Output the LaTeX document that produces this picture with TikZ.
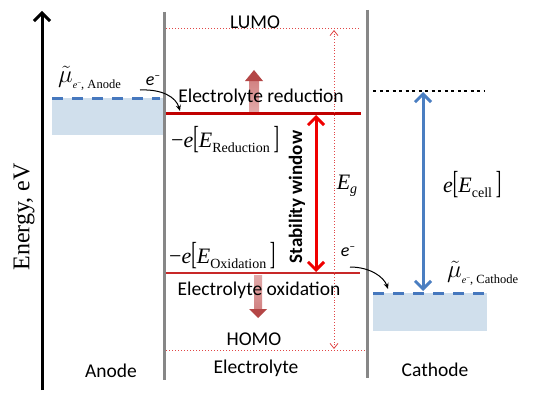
\documentclass[tikz,border=0pt]{standalone}
\usepackage{fontspec}
\setmainfont{Carlito}
\newfontfamily\tm{Liberation Serif}
\usetikzlibrary{arrows.meta}
\definecolor{gline}{RGB}{135,135,135}
\definecolor{dred}{RGB}{192,0,0}
\definecolor{oxred}{RGB}{200,40,40}
\definecolor{dotred}{RGB}{225,70,70}
\definecolor{swred}{RGB}{240,0,0}
\definecolor{cblue}{RGB}{74,126,193}
\definecolor{dblue}{RGB}{70,120,190}
\definecolor{boxfill}{RGB}{208,223,236}
\definecolor{pinkhead}{RGB}{180,70,70}
\definecolor{pinkshaft}{RGB}{215,140,140}
\newcommand{\mysub}[1]{\raisebox{-4.5pt}{\fontsize{14}{14}\selectfont #1}}
\newcommand{\brk}[1]{\raisebox{-1pt}{\scalebox{0.75}[1.45]{\fontsize{22}{22}\selectfont #1}}}
\newcommand{\musub}[1]{\raisebox{-6pt}{\tm\fontsize{10}{10}\selectfont\textit{e}\raisebox{3pt}{\fontsize{7}{7}\selectfont −}\fontsize{12.5}{12.5}\selectfont, #1}}
\newcommand{\elec}{\textit{e}\raisebox{6pt}{\fontsize{11}{11}\selectfont −}}
\begin{document}
\begin{tikzpicture}[x=1pt,y=-1pt,
 lbl/.style={font=\fontsize{19.5}{19.5}\selectfont, inner sep=0pt},
 mth/.style={font=\tm\fontsize{22}{22}\selectfont, inner sep=0pt},
 wall/.style={gline, line width=3pt},
 level/.style={dred, line width=3pt},
 orbital/.style={dotred, dotted, line width=1pt},
 fermi/.style={dblue, line width=3pt, dash pattern=on 11pt off 9pt},
 ebox/.style={fill=boxfill},
 barb/.style={line width=3pt, {Straight Barb[length=8pt,width=16pt]}-{Straight Barb[length=8pt,width=16pt]}},
 curv/.style={-{Stealth[length=6pt,width=5pt]}, line width=1pt},
]
\useasboundingbox (0,0) rectangle (554,404);
\fill[white] (0,0) rectangle (554,404);

% energy axis
\coordinate (axb) at (42,390);
\coordinate (axt) at (42,11);
\draw[line width=3pt, -{Straight Barb[length=8pt,width=16pt]}] (axb) -- (axt);
\node[font=\tm\fontsize{24}{24}\selectfont, rotate=90, inner sep=0pt] (energy) at (24,217) {Energy, eV};

% electrode boxes
\fill[ebox] (52,98) rectangle (164,135);
\fill[ebox] (373,293) rectangle (487,331);

% walls
\coordinate (lwt) at (164,12); \coordinate (lwb) at (164,380);
\coordinate (rwt) at (367,10); \coordinate (rwb) at (367,378);
\draw[wall] (lwt) -- (lwb);
\draw[wall] (rwt) -- (rwb);

% fermi levels
\coordinate (faL) at (52,98); \coordinate (faR) at (160,98);
\coordinate (fcL) at (373,293); \coordinate (fcR) at (487,293);
\draw[fermi] (faL) -- (faR);
\draw[fermi] (fcL) -- (fcR);

% orbitals
\coordinate (lumoL) at (166,29); \coordinate (lumoR) at (360,29);
\coordinate (homoL) at (166,350); \coordinate (homoR) at (366,350);
\draw[orbital] (lumoL) -- (lumoR);
\draw[orbital] (homoL) -- (homoR);

% pink arrows
\shade[top color=pinkshaft!85!pinkhead, bottom color=pinkshaft!75] (249,111) rectangle (259,80);
\fill[pinkhead] (245,81) -- (254,70) -- (263,81) -- cycle;
\shade[top color=pinkshaft!75, bottom color=pinkshaft!85!pinkhead] (254,275) rectangle (262,310);
\fill[pinkhead] (249,309) -- (258,318) -- (267,309) -- cycle;

% levels
\coordinate (redL) at (166,113); \coordinate (redR) at (361,113);
\coordinate (oxL) at (166,273); \coordinate (oxR) at (360,273);
\draw[level] (redL) -- (redR);
\draw[oxred, line width=2.2pt] (oxL) -- (oxR);

% band gap arrow
\coordinate (egt) at (334,30); \coordinate (egb) at (334,349);
\draw[dotred, dotted, line width=0.8pt, {Straight Barb[length=5pt,width=8pt,line width=0.8pt]}-{Straight Barb[length=5pt,width=8pt,line width=0.8pt]}] (egb) -- (egt);

% stability window
\coordinate (swt) at (316,115); \coordinate (swb) at (316,272);
\draw[swred, barb] (swb) -- (swt);
\node[font=\bfseries\fontsize{19}{19}\selectfont, rotate=90, inner sep=0pt] (sw) at (297,197) {Stability window};

% cathode side
\coordinate (cdL) at (373,91); \coordinate (cdR) at (485,91);
\draw[line width=2.5pt, dash pattern=on 3pt off 3.5pt] (cdL) -- (cdR);
\coordinate (bt) at (423,92); \coordinate (bb) at (423,291);
\draw[cblue, barb] (bb) -- (bt);

% labels
\node[lbl] (lumo) at (255,22) {LUMO};
\node[lbl] (homo) at (254,339) {HOMO};
\node[lbl] (redtxt) at (261,97) {Electrolyte reduction};
\node[lbl] (oxtxt) at (259,290) {Electrolyte oxidation};
\node[lbl] (anode) at (111,371) {Anode};
\node[lbl] (elyte) at (256,368) {Electrolyte};
\node[lbl] (cath) at (435,370) {Cathode};

\node[mth, anchor=west] (ered) at (171,140) {−\textit{e}\brk{[}\textit{E}\mysub{Reduction}\,\brk{]}};
\node[mth, anchor=west] (eox) at (169,256) {−\textit{e}\brk{[}\textit{E}\mysub{Oxidation}\,\brk{]}};
\node[mth] (eg) at (347,186) {\textit{E}\mysub{\textit{g}}};
\node[mth, anchor=west] (ecell) at (443,185) {\textit{e}\brk{[}\textit{E}\mysub{cell}\,\brk{]}};

\node[anchor=west, inner sep=0pt] (muA) at (58,78) {{\fontsize{24}{24}\selectfont$\tilde{\mu}$}\musub{Anode}};
\node[anchor=west, inner sep=0pt] (muC) at (447,273) {{\fontsize{24}{24}\selectfont$\tilde{\mu}$}\musub{Cathode}};

\node[font=\fontsize{18}{18}\selectfont, inner sep=0pt] (eA) at (153,81) {\elec};
\node[font=\fontsize{18}{18}\selectfont, inner sep=0pt] (eC) at (348,252) {\elec};

% electron transfer arrows
\coordinate (c1s) at (140,90); \coordinate (c1e) at (180,111);
\draw[curv] (c1s) .. controls (162,89) and (176,97) .. (c1e);
\coordinate (c2s) at (350,267); \coordinate (c2e) at (388,289);
\draw[curv] (c2s) .. controls (370,267) and (384,277) .. (c2e);
\end{tikzpicture}
\end{document}
